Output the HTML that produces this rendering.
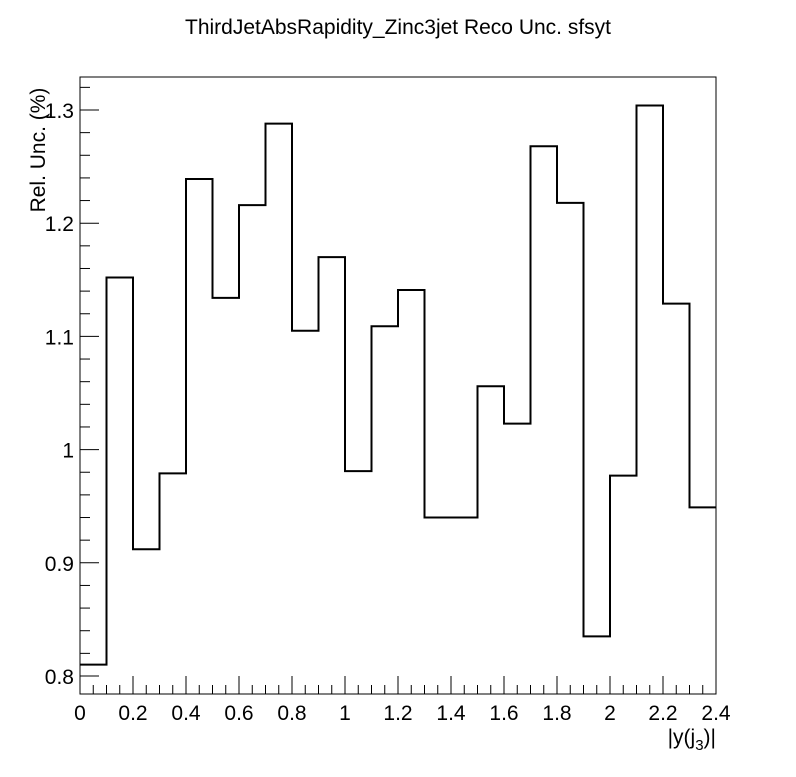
<!DOCTYPE html>
<html><head><meta charset="utf-8"><style>
body{margin:0;background:#fff;}
svg text{font-family:"Liberation Sans",Arial,sans-serif;fill:#000;}
</style></head><body>
<svg id="c" width="796" height="772">
<rect width="796" height="772" fill="#fff"/>
<text x="398" y="34" font-size="21" text-anchor="middle">ThirdJetAbsRapidity_Zinc3jet Reco Unc. sfsyt</text>
<rect x="80" y="77" width="636" height="617" fill="none" stroke="#000" stroke-width="1"/>
<g id="ticks"></g>
<path id="hist" fill="none" stroke="#000" stroke-width="2"/>
<text x="716" y="744" font-size="21" text-anchor="end">|y(j<tspan font-size="15" dy="6">3</tspan><tspan dy="-6">)|</tspan></text>
<text transform="translate(45,150) rotate(-90)" font-size="21" text-anchor="middle">Rel. Unc. (%)</text>
</svg>
<script>
const binEdgesStart = 0, binWidth = 0.1;
const values = [0.810,1.152,0.912,0.979,1.239,1.134,1.216,1.288,1.105,1.170,0.981,1.109,1.141,0.940,0.940,1.056,1.023,1.268,1.218,0.835,0.977,1.304,1.129,0.949];
const xTicks = ["0","0.2","0.4","0.6","0.8","1","1.2","1.4","1.6","1.8","2","2.2","2.4"];
const yTicks = ["0.8","0.9","1","1.1","1.2","1.3"];
const X0=80,X1=716,Y0=694,Y1=77;
const xMin=0,xMax=2.4;
const yAt08=676,yPer=1132;
const sx=v=>X0+(v-xMin)/(xMax-xMin)*(X1-X0);
const sy=v=>yAt08-(v-0.8)*yPer;
const NS="http://www.w3.org/2000/svg";
const g=document.getElementById('ticks');
let d="";
values.forEach((v,i)=>{
  const xa=sx(binEdgesStart+i*binWidth), xb=sx(binEdgesStart+(i+1)*binWidth), y=sy(v);
  if(i===0) d+=`M${xa},${y}`; else d+=`L${xa},${y}`;
  d+=`L${xb},${y}`;
});
document.getElementById('hist').setAttribute('d',d);
function line(x1,y1,x2,y2){const l=document.createElementNS(NS,'line');l.setAttribute('x1',x1);l.setAttribute('y1',y1);l.setAttribute('x2',x2);l.setAttribute('y2',y2);l.setAttribute('stroke','#000');g.appendChild(l);return l;}
for(let i=0;i<=48;i++){const x=sx(i*0.05);const len=i%4===0?18:9;const l=line(x,Y0,x,Y0-len);

}
for(let k=-1;k<=27;k++){const v=0.8+k*0.02;const y=sy(v);if(y>Y0||y<Y1)continue;const major=k%5===0;const l=line(X0,y,X0+(major?19:10),y);

}
xTicks.forEach(t=>{const tx=document.createElementNS(NS,'text');tx.setAttribute('x',sx(parseFloat(t)));tx.setAttribute('y',720);tx.setAttribute('font-size','21');tx.setAttribute('text-anchor','middle');tx.textContent=t;


g.appendChild(tx);});
yTicks.forEach(t=>{const tx=document.createElementNS(NS,'text');tx.setAttribute('x',74);tx.setAttribute('y',sy(parseFloat(t))+8);tx.setAttribute('font-size','21');tx.setAttribute('text-anchor','end');tx.textContent=t;


g.appendChild(tx);});
</script>
</body></html>
